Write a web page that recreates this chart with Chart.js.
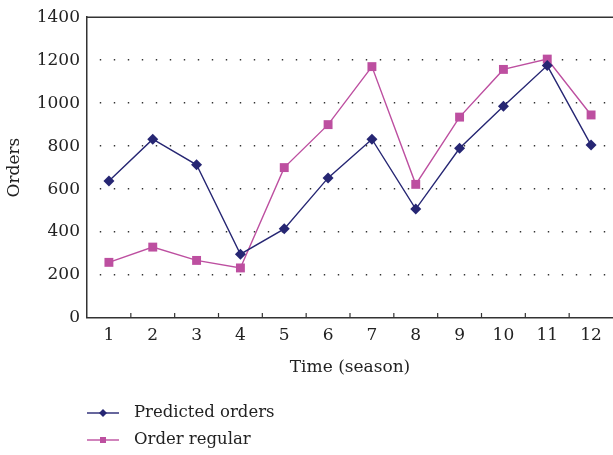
<!DOCTYPE html>
<html>
<head>
<meta charset="utf-8">
<script src="https://cdn.jsdelivr.net/npm/chart.js@4/dist/chart.umd.min.js"></script>
<style>
html,body{margin:0;padding:0;background:#fff;overflow:hidden;}
#wrap{width:613px;height:455px;position:relative;}
canvas{display:block;}
</style>
</head>
<body>
<div id="wrap"><canvas id="c" width="613" height="455"></canvas></div>
<script>
const categories = ['1','2','3','4','5','6','7','8','9','10','11','12'];
const predictedOrders = [638, 832, 713, 297, 415, 652, 832, 507, 790, 985, 1175, 805];
const orderRegular = [259, 330, 268, 233, 700, 900, 1170, 622, 935, 1157, 1205, 945];
const yTicks = [0, 200, 400, 600, 800, 1000, 1200, 1400];

const NAVY = '#262673';
const PINK = '#BD4FA0';
const FONT = '"DejaVu Serif", "Liberation Serif", serif';
const FS = 17;

const frameAndTicks = {
  id: 'frameAndTicks',
  afterDraw(chart) {
    const ctx = chart.ctx;
    const xs = chart.scales.x;
    const ca = chart.chartArea;
    ctx.save();
    ctx.strokeStyle = '#333';
    ctx.lineWidth = 1.2;
    for (let i = 0; i < categories.length - 1; i++) {
      const p = (xs.getPixelForValue(i) + xs.getPixelForValue(i + 1)) / 2;
      ctx.beginPath();
      ctx.moveTo(p, ca.bottom);
      ctx.lineTo(p, ca.bottom - 5);
      ctx.stroke();
    }
    ctx.lineWidth = 1.5;
    ctx.beginPath();
    ctx.moveTo(ca.left, ca.top);
    ctx.lineTo(ca.right, ca.top);
    ctx.stroke();
    ctx.restore();
  }
};

const customLegend = {
  id: 'customLegend',
  afterDraw(chart) {
    const ctx = chart.ctx;
    const rows = [413, 440];
    ctx.save();
    chart.data.datasets.forEach((ds, i) => {
      const y = rows[i];
      ctx.strokeStyle = ds.borderColor;
      ctx.lineWidth = 1.4;
      ctx.beginPath();
      ctx.moveTo(87, y);
      ctx.lineTo(119, y);
      ctx.stroke();
      ctx.fillStyle = ds.pointBackgroundColor;
      ctx.beginPath();
      if (ds.pointStyle === 'rectRot') {
        const r = 4;
        ctx.moveTo(103, y - r); ctx.lineTo(103 + r, y); ctx.lineTo(103, y + r); ctx.lineTo(103 - r, y);
        ctx.closePath();
      } else {
        ctx.rect(100, y - 3, 6, 6);
      }
      ctx.fill();
      ctx.fillStyle = '#222';
      ctx.font = '16.5px ' + FONT;
      ctx.textBaseline = 'middle';
      ctx.textAlign = 'left';
      ctx.fillText(ds.label, 134, y);
    });
    ctx.restore();
  }
};

new Chart(document.getElementById('c'), {
  type: 'line',
  data: {
    labels: categories,
    datasets: [
      {
        label: 'Predicted orders',
        data: predictedOrders,
        borderColor: NAVY,
        backgroundColor: NAVY,
        pointBackgroundColor: NAVY,
        pointBorderColor: NAVY,
        pointStyle: 'rectRot',
        pointRadius: 5.5,
        pointBorderWidth: 0,
        borderWidth: 1.4,
        tension: 0,
        clip: false
      },
      {
        label: 'Order regular',
        data: orderRegular,
        borderColor: PINK,
        backgroundColor: PINK,
        pointBackgroundColor: PINK,
        pointBorderColor: PINK,
        pointStyle: 'rect',
        pointRadius: 6.3,
        pointBorderWidth: 0,
        borderWidth: 1.4,
        tension: 0,
        clip: false
      }
    ]
  },
  options: {
    responsive: false,
    animation: false,
    layout: { autoPadding: false, padding: { top: 12, right: 0, bottom: 70, left: 0 } },
    plugins: { legend: { display: false }, tooltip: { enabled: false } },
    scales: {
      x: {
        type: 'category',
        offset: true,
        grid: { display: false, drawTicks: false },
        border: { display: true, color: '#333', width: 1.5 },
        ticks: { color: '#222', font: { family: FONT, size: FS }, padding: 7, maxRotation: 0, autoSkip: false },
        title: { display: true, text: 'Time (season)', color: '#222', font: { family: FONT, size: FS }, padding: { top: 0, bottom: 7 } },
        afterFit(s) { s.height = 67; s.paddingLeft = 0; s.paddingRight = 0; }
      },
      y: {
        min: 0,
        max: 1400,
        afterBuildTicks(s) { s.ticks = yTicks.map(v => ({ value: v })); },
        grid: {
          drawTicks: false,
          color: '#333',
          lineWidth: (c) => (c.tick && (c.tick.value === 0 || c.tick.value === 1400)) ? 0 : 1.4
        },
        border: { display: true, color: '#333', width: 1.5, dash: [1.4, 12.6], dashOffset: 1.7 },
        ticks: { color: '#222', font: { family: FONT, size: FS }, padding: 7, callback: (v) => String(v) },
        title: { display: true, text: 'Orders', color: '#222', font: { family: FONT, size: FS }, padding: { top: 4, bottom: 0 } },
        afterFit(s) { s.width = 87; }
      }
    }
  },
  plugins: [frameAndTicks, customLegend]
});
</script>
</body>
</html>
